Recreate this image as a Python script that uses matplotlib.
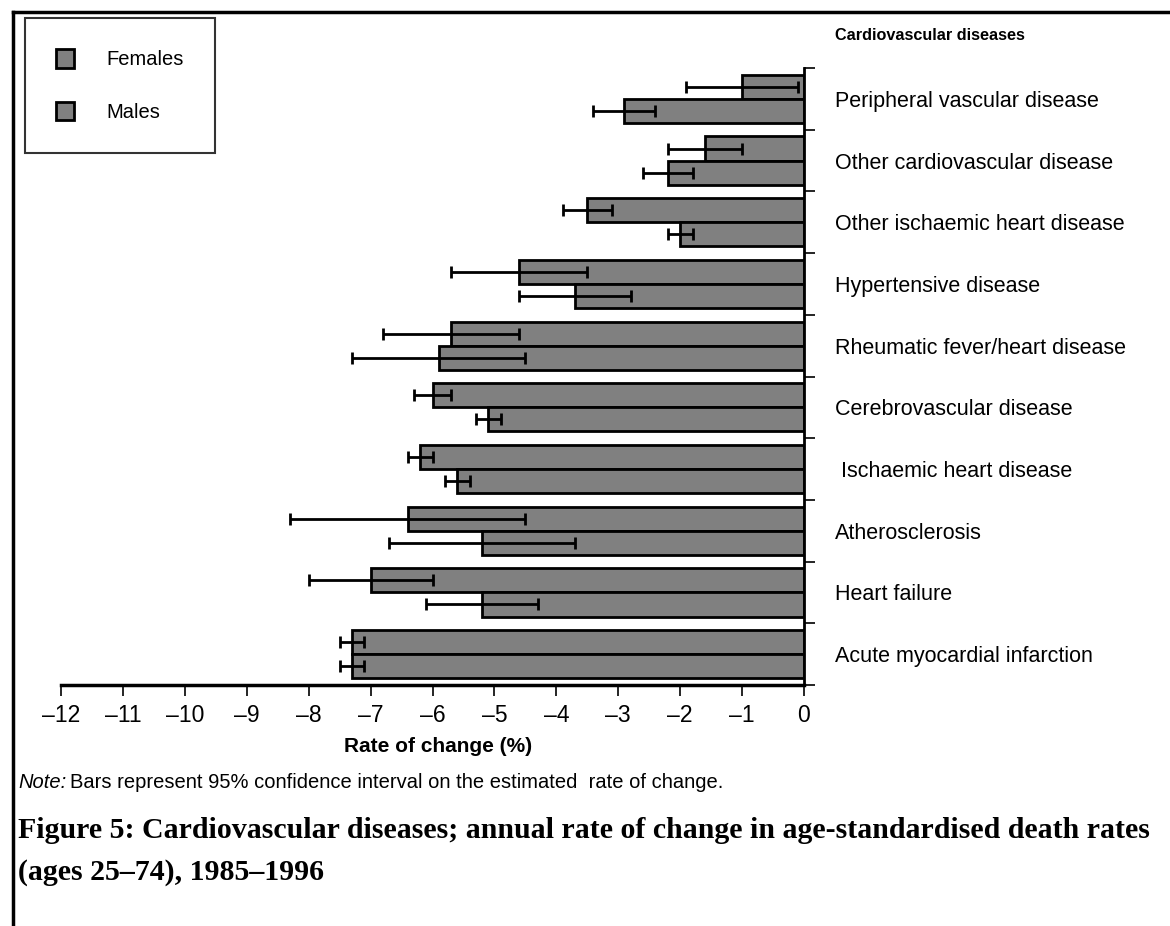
import matplotlib
matplotlib.use('Agg')
import matplotlib.pyplot as plt
from matplotlib.lines import Line2D
from matplotlib.patches import Patch
import numpy as np

plt.rcParams['font.family'] = ['Liberation Sans', 'DejaVu Sans']

categories = ['Peripheral vascular disease', 'Other cardiovascular disease',
              'Other ischaemic heart disease', 'Hypertensive disease',
              'Rheumatic fever/heart disease', 'Cerebrovascular disease',
              ' Ischaemic heart disease', 'Atherosclerosis', 'Heart failure',
              'Acute myocardial infarction']

females = [-1.0, -1.6, -3.5, -4.6, -5.7, -6.0, -6.2, -6.4, -7.0, -7.3]
females_lo = [-1.9, -2.2, -3.9, -5.7, -6.8, -6.3, -6.4, -8.3, -8.0, -7.5]
females_hi = [-0.1, -1.0, -3.1, -3.5, -4.6, -5.7, -6.0, -4.5, -6.0, -7.1]

males = [-2.9, -2.2, -2.0, -3.7, -5.9, -5.1, -5.6, -5.2, -5.2, -7.3]
males_lo = [-3.4, -2.6, -2.2, -4.6, -7.3, -5.3, -5.8, -6.7, -6.1, -7.5]
males_hi = [-2.4, -1.8, -1.8, -2.8, -4.5, -4.9, -5.4, -3.7, -4.3, -7.1]

xticks = [-12, -11, -10, -9, -8, -7, -6, -5, -4, -3, -2, -1, 0]
xticklabels = ['\u201312', '\u201311', '\u201310', '\u20139', '\u20138', '\u20137',
               '\u20136', '\u20135', '\u20134', '\u20133', '\u20132', '\u20131', '0']

W, H = 1170, 926
fig = plt.figure(figsize=(W / 100, H / 100), dpi=100)
ax = fig.add_axes([61 / W, 1 - 685 / H, (804 - 61) / W, (685 - 68) / H])

gray = '#808080'
n = len(categories)
centers = np.arange(n) + 0.5
bh = 0.39

f = np.array(females)
m = np.array(males)
f_err = np.array([f - np.array(females_lo), np.array(females_hi) - f])
m_err = np.array([m - np.array(males_lo), np.array(males_hi) - m])

ax.barh(centers - bh / 2, f, height=bh, color=gray, edgecolor='black', linewidth=2, zorder=2)
ax.barh(centers + bh / 2, m, height=bh, color=gray, edgecolor='black', linewidth=2, zorder=2)
ax.errorbar(f, centers - bh / 2, xerr=f_err, fmt='none', ecolor='black',
            elinewidth=2, capsize=4.5, capthick=2, zorder=3)
ax.errorbar(m, centers + bh / 2, xerr=m_err, fmt='none', ecolor='black',
            elinewidth=2, capsize=4.5, capthick=2, zorder=3)

ax.set_xlim(-12, 0)
ax.set_ylim(n, 0)

for s in ['left', 'top']:
    ax.spines[s].set_visible(False)
ax.spines['bottom'].set_linewidth(2.5)
ax.spines['right'].set_linewidth(2)

ax.set_xticks(xticks)
ax.set_xticklabels(xticklabels, fontsize=16.5)
ax.tick_params(axis='x', direction='out', length=8, width=1.2, pad=6)

ax.yaxis.set_ticks_position('right')
ax.set_yticks(np.arange(n + 1))
ax.set_yticklabels([])
ax.set_yticks(centers, minor=True)
ax.set_yticklabels(categories, minor=True, fontsize=15.5)
ax.tick_params(axis='y', which='major', direction='out', length=8, width=1.2)
ax.tick_params(axis='y', which='minor', length=0, pad=22.5)

fig.text(438 / W, 1 - 746 / H, 'Rate of change (%)', fontsize=15, fontweight='bold',
         ha='center', va='center')

fig.text(835 / W, 1 - 35 / H, 'Cardiovascular diseases', fontsize=11.7, fontweight='bold',
         ha='left', va='center')

# legend
handles = [Patch(facecolor=gray, edgecolor='black', linewidth=2, label='Females'),
           Patch(facecolor=gray, edgecolor='black', linewidth=2, label='Males')]
leg = fig.legend(handles=handles, loc='upper left', bbox_to_anchor=(25 / W, 1 - 18 / H),
                 fontsize=14.5, frameon=True, fancybox=False, edgecolor='black',
                 handlelength=0.9, handleheight=1.05, handletextpad=1.6,
                 labelspacing=1.6, borderpad=1.55, borderaxespad=0)
leg.get_frame().set_linewidth(1.5)

# note
renderer = fig.canvas.get_renderer()
t = fig.text(18 / W, 1 - 782 / H, 'Note:', fontsize=14.5, style='italic', va='center')
bb = t.get_window_extent(renderer)
fig.text((bb.x1 + 4) / W, 1 - 782 / H,
         'Bars represent 95% confidence interval on the estimated  rate of change.',
         fontsize=14.5, va='center')

# caption
fig.text(18 / W, 1 - 830 / H,
         'Figure 5: Cardiovascular diseases; annual rate of change in age-standardised death rates',
         fontsize=21.5, fontweight='bold', family='Liberation Serif', va='center')
fig.text(18 / W, 1 - 872 / H, '(ages 25\u201374), 1985\u20131996',
         fontsize=21.5, fontweight='bold', family='Liberation Serif', va='center')

# page border
fig.add_artist(Line2D([13 / W, 13 / W], [0, 1 - 12 / H], color='black', linewidth=2.5))
fig.add_artist(Line2D([13 / W, 1], [1 - 12 / H, 1 - 12 / H], color='black', linewidth=2.5))

fig.savefig('out.png', dpi=100)
